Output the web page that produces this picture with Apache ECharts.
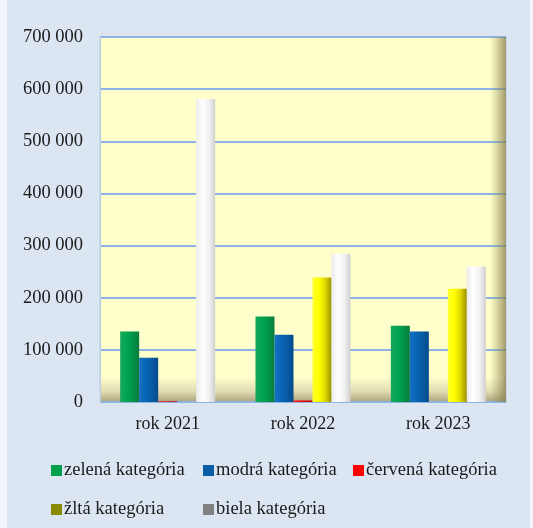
<!DOCTYPE html>
<html>
<head>
<meta charset="utf-8">
<script src="https://cdn.jsdelivr.net/npm/echarts@6/dist/echarts.min.js"></script>
<style>
    html, body { margin: 0; padding: 0; background: #f3f6fa; }
    #chart { position: absolute; left: 7px; top: 0; width: 523px; height: 528px; }
</style>
</head>
<body>
<div id="chart"></div>
<script>
// 数据
const categories = ['rok 2021', 'rok 2022', 'rok 2023'];
const seriesNames = ['zelená kategória', 'modrá kategória', 'červená kategória', 'žltá kategória', 'biela kategória'];
const zelena = [135000, 164000, 146000];
const modra = [85000, 129000, 135000];
const cervena = [1500, 3000, 0];
const zlta = [0, 239000, 217000];
const biela = [581000, 284000, 260000];
const yTicks = [0, 100000, 200000, 300000, 400000, 500000, 600000, 700000];

// 柱子的横向渐变（模拟立体效果）
const hGrad = (stops) => ({
    type: 'linear', x: 0, y: 0, x2: 1, y2: 0,
    colorStops: stops.map((c, i) => ({ offset: i / (stops.length - 1), color: c }))
});

const barColors = [
    hGrad(['#17a85a', '#00a651', '#009448', '#0b7a3c']),
    hGrad(['#1470c0', '#0a66b6', '#075aa4', '#054a8a']),
    hGrad(['#ff1a1a', '#ff0000', '#e00000', '#c00000']),
    hGrad(['#ffff30', '#ffff00', '#e0d800', '#9a9000']),
    hGrad(['#ebebeb', '#ffffff', '#f2f2f2', '#cfcfcf'])
];
const legendColors = ['#00a04c', '#0a5ea6', '#ff0000', '#8a8a00', '#808080'];
const seriesData = [zelena, modra, cervena, zlta, biela];

const chart = echarts.init(document.getElementById('chart'));

const fontFamily = '"Liberation Serif", "Times New Roman", serif';

// 图例位置（两行排列）
const legendPos = [
    { left: 39, top: 456 },
    { left: 191, top: 456 },
    { left: 341, top: 456 },
    { left: 39, top: 495 },
    { left: 191, top: 495 }
];

const option = {
    backgroundColor: '#dce6f2',
    animation: false,
    grid: {
        left: 93,
        right: 24,
        top: 37,
        bottom: 126,
        show: true,
        borderColor: '#b9cde5',
        borderWidth: 1,
        backgroundColor: {
            type: 'linear', x: 0, y: 0, x2: 0, y2: 1,
            colorStops: [
                { offset: 0, color: '#ffffcc' },
                { offset: 0.93, color: '#ffffcc' },
                { offset: 0.97, color: '#e0dcb0' },
                { offset: 1, color: '#a8a07a' }
            ]
        }
    },
    graphic: [],
    legend: seriesNames.map((name, i) => ({
        data: [{ name: name, itemStyle: { color: legendColors[i] } }],
        left: legendPos[i].left,
        top: legendPos[i].top,
        itemWidth: 11,
        itemHeight: 11,
        itemGap: 0,
        icon: 'rect',
        selectedMode: false,
        textStyle: { fontFamily: fontFamily, fontSize: 18.5, color: '#1a1a1a', padding: [0, 0, 0, -3] }
    })),
    xAxis: {
        type: 'category',
        data: categories,
        axisLine: { show: false },
        axisTick: { show: false },
        axisLabel: { fontFamily: fontFamily, fontSize: 18, color: '#1a1a1a', margin: 13 }
    },
    yAxis: {
        type: 'value',
        min: 0,
        max: 700000,
        interval: 100000,
        axisLine: { show: true, lineStyle: { color: '#b9cde5' } },
        axisTick: { show: false },
        axisLabel: {
            fontFamily: fontFamily,
            fontSize: 18.5,
            color: '#1a1a1a',
            margin: 17,
            formatter: (v) => yTicks.includes(v) ? String(v).replace(/\B(?=(\d{3})+(?!\d))/g, ' ') : ''
        },
        splitLine: { show: true, lineStyle: { color: '#8db4e3', width: 2 } }
    },
    series: seriesNames.map((name, i) => ({
        name: name,
        type: 'bar',
        data: seriesData[i],
        barWidth: 19,
        barGap: '0%',
        itemStyle: { color: barColors[i] }
    }))
};

chart.setOption(option);

// 右侧阴影
const rightX = chart.convertToPixel({ gridIndex: 0 }, [2.5, 0]);
const topPt = chart.convertToPixel({ gridIndex: 0 }, [0, 700000]);
chart.setOption({
    graphic: [{
        type: 'rect',
        z: 1,
        silent: true,
        shape: { x: 523 - 24 - 16, y: topPt[1], width: 16, height: rightX[1] - topPt[1] },
        style: {
            fill: {
                type: 'linear', x: 0, y: 0, x2: 1, y2: 0,
                colorStops: [
                    { offset: 0, color: 'rgba(150,140,90,0)' },
                    { offset: 1, color: 'rgba(130,120,70,0.75)' }
                ]
            }
        }
    }]
});
</script>
</body>
</html>
